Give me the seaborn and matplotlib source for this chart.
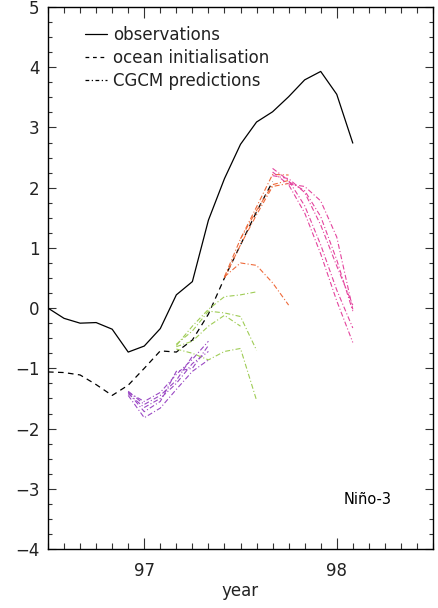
import numpy as np
import pandas as pd
import matplotlib
matplotlib.use("Agg")
import matplotlib.pyplot as plt
import seaborn as sns
from matplotlib.ticker import MultipleLocator, FixedLocator
from matplotlib.lines import Line2D

# ---- data: months counted from Jan 1996 (month 0); year = 96 + month/12 ----
obs_start = 6
obs_vals = [0.0, -0.17, -0.25, -0.24, -0.35, -0.73, -0.63, -0.34, 0.22, 0.44,
            1.46, 2.15, 2.72, 3.09, 3.26, 3.51, 3.79, 3.93, 3.55, 2.74]

ocean_start = 6
ocean_vals = [-1.06, -1.07, -1.11, -1.27, -1.45, -1.28, -1.00, -0.71, -0.73,
              -0.53, -0.10, 0.50, 1.05, 1.60, 2.10]

purple_starts = [11, 11, 11, 11, 11]
purple_vals = [
    [-1.40, -1.55, -1.40, -1.10, -0.85, -0.55],
    [-1.42, -1.65, -1.50, -1.25, -0.92, -0.72],
    [-1.45, -1.82, -1.66, -1.35, -1.05, -0.86],
    [-1.38, -1.60, -1.45, -1.20, -0.80],
    [-1.40, -1.72, -1.55, -1.05, -1.00, -0.62],
]

green_starts = [14, 14, 14, 14]
green_vals = [
    [-0.62, -0.30, -0.02, 0.19, 0.22, 0.27],
    [-0.60, -0.38, -0.05, -0.08, -0.14, -0.70],
    [-0.64, -0.55, -0.30, -0.12, -0.30],
    [-0.68, -0.75, -0.86, -0.72, -0.67, -1.53],
]

orange_starts = [17, 17, 17, 18]
orange_vals = [
    [0.52, 0.75, 0.71, 0.42, 0.05],
    [0.52, 1.15, 1.68, 2.22, 2.21],
    [0.50, 1.05, 1.55, 2.02, 2.07],
    [1.15, 1.62, 2.05, 2.12],
]

pink_starts = [20, 20, 20, 21, 21]
pink_vals = [
    [2.32, 2.12, 1.70, 1.05, 0.30, -0.33],
    [2.26, 2.05, 1.58, 0.90, 0.12, -0.57],
    [2.20, 2.15, 1.92, 1.38, 0.70, 0.05],
    [2.10, 1.95, 1.52, 0.80, -0.05],
    [2.06, 2.02, 1.78, 1.18, -0.02],
]

legend_labels = ["observations", "ocean initialisation", "CGCM predictions"]
xtick_years = [97, 98]
xtick_labels = ["97", "98"]
ytick_vals = [-4, -3, -2, -1, 0, 1, 2, 3, 4, 5]

def years(start, vals):
    return 96 + (start + np.arange(len(vals))) / 12.0

# ---- style ----
sns.set_style("ticks")
plt.rcParams["font.family"] = ["DejaVu Sans"]
plt.rcParams["axes.linewidth"] = 1.0

fig = plt.figure(figsize=(4.38, 6.08), dpi=100)
ax = fig.add_axes([48 / 438, 1 - 549 / 608, 385 / 438, 542 / 608])

dashdot = (0, (4.5, 2, 1, 2))
dashed = (0, (4.5, 3.5))

sns.lineplot(x=years(obs_start, obs_vals), y=obs_vals, ax=ax, color="black",
             linewidth=0.9, estimator=None, sort=False)
sns.lineplot(x=years(ocean_start, ocean_vals), y=ocean_vals, ax=ax, color="black",
             linewidth=0.9, linestyle=dashed, estimator=None, sort=False)

groups = [
    (purple_starts, purple_vals, "#9a48c4"),
    (green_starts, green_vals, "#9fcc55"),
    (orange_starts, orange_vals, "#ee6a3a"),
    (pink_starts, pink_vals, "#e4449e"),
]
for starts, vals_list, col in groups:
    for s, v in zip(starts, vals_list):
        sns.lineplot(x=years(s, v), y=v, ax=ax, color=col, linewidth=0.8,
                     linestyle=dashdot, estimator=None, sort=False)

ax.set_xlim(96.5, 98.5)
ax.set_ylim(-4, 5)
ax.xaxis.set_major_locator(FixedLocator(xtick_years))
ax.set_xticklabels(xtick_labels)
ax.xaxis.set_minor_locator(MultipleLocator(1 / 12))
ax.yaxis.set_major_locator(FixedLocator(ytick_vals))
ax.yaxis.set_minor_locator(MultipleLocator(0.25))

ax.tick_params(axis="x", which="major", direction="in", length=8, width=0.8,
               top=True, labelsize=12, pad=9, colors="#333333", labelcolor="#222222")
ax.tick_params(axis="x", which="minor", direction="in", length=4, width=0.8, top=True,
               colors="#333333")
ax.tick_params(axis="y", which="major", direction="in", length=5.5, width=0.8,
               right=True, labelsize=12, pad=6, colors="#333333", labelcolor="#222222")
ax.tick_params(axis="y", which="minor", direction="in", length=2.8, width=0.8, right=True,
               colors="#333333")
for sp in ax.spines.values():
    sp.set_color("black")
    sp.set_linewidth(1.0)

ax.set_xlabel("year", fontsize=12, color="#222222", labelpad=2)
ax.set_ylabel("")

handles = [
    Line2D([], [], color="black", linewidth=0.9),
    Line2D([], [], color="black", linewidth=0.9, linestyle=(0, (3, 3))),
    Line2D([], [], color="black", linewidth=0.9, linestyle=(0, (3, 2, 1, 2))),
]
ax.legend(handles, legend_labels, loc="upper left", bbox_to_anchor=(0.08, 0.977),
          frameon=False, fontsize=12, handlelength=1.3, handletextpad=0.35,
          labelspacing=0.3, borderaxespad=0, labelcolor="#222222")

ax.text(0.83, 0.092, "Niño-3", transform=ax.transAxes, ha="center", va="center",
        fontsize=10.5, color="black")

fig.savefig("out.png", dpi=100)
